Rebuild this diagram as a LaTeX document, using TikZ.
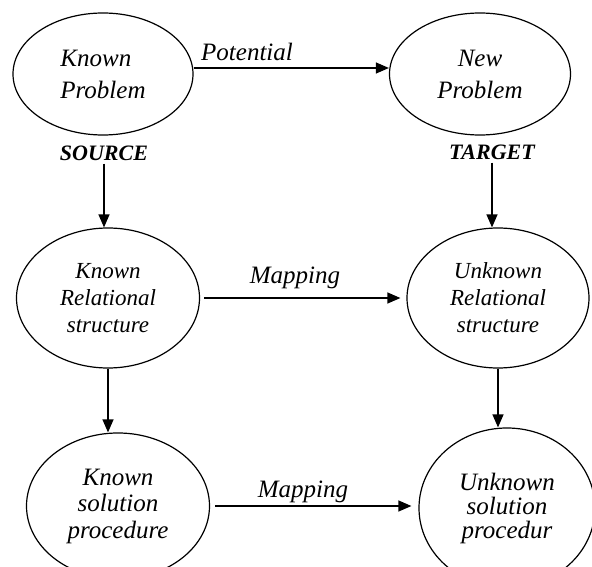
\documentclass[tikz,border=0pt]{standalone}
\usepackage{fontspec}
\setmainfont{Liberation Serif}
\usetikzlibrary{shapes.geometric,arrows.meta}

\begin{document}
\begin{tikzpicture}[x=1pt,y=-1pt,
    bubble/.style={draw,ellipse,line width=1.2pt,inner sep=0pt,align=center},
    arr/.style={-{Triangle[length=13pt,width=11pt]},line width=1.2pt},
    lbl/.style={font=\fontsize{25}{28}\selectfont\itshape}]
  \useasboundingbox (0,0) rectangle (592,567);
  % source side
  \node[bubble,align=left,minimum width=180pt,minimum height=122pt,
    font=\fontsize{25}{32}\selectfont\itshape] (kp) at (103,74) {Known\\Problem};
  \node[font=\fontsize{22}{24}\selectfont\bfseries\itshape,inner sep=3pt] (source) at (104,153) {SOURCE};
  \node[bubble,minimum width=183pt,minimum height=140pt,
    font=\fontsize{23}{27}\selectfont\itshape] (krs) at (108,298) {Known\\Relational\\structure};
  \node[bubble,minimum width=183pt,minimum height=146pt,
    font=\fontsize{25}{26.5}\selectfont\itshape] (ksp) at (118,506) {Known\\solution\\procedure};
  % target side
  \node[bubble,minimum width=181pt,minimum height=122pt,
    font=\fontsize{25}{32}\selectfont\itshape] (np) at (480,74) {New\\Problem};
  \node[font=\fontsize{22}{24}\selectfont\bfseries\itshape,inner sep=3pt] (target) at (492,152) {TARGET};
  \node[bubble,minimum width=182pt,minimum height=140pt,
    font=\fontsize{23}{27}\selectfont\itshape] (urs) at (498,298) {Unknown\\Relational\\structure};
  \node[bubble,minimum width=176pt,minimum height=160pt,
    font=\fontsize{25}{24}\selectfont\itshape] (usp) at (507,508) {Unknown\\solution\\procedur};
  % labels
  \node[lbl] (pot) at (247,52) {Potential};
  \node[lbl] (map1) at (295,278) {Mapping};
  \node[lbl] (map2) at (303,492) {Mapping};
  % arrows
  \draw[arr] ([yshift=6pt]kp.east) -- ([yshift=6pt]np.west);
  \draw[arr] (source.south) -- (source.south |- krs.north);
  \draw[arr] (target.south) -- (target.south |- urs.north);
  \draw[arr,shorten <=4pt,shorten >=6pt] (krs.east) -- (urs.west);
  \draw[arr] (krs.south) -- (krs.south |- ksp.north);
  \draw[arr] (urs.south) -- (urs.south |- usp.north);
  \draw[arr,shorten <=5pt,shorten >=7pt] (ksp.east) -- (ksp.east -| usp.west);
\end{tikzpicture}
\end{document}
